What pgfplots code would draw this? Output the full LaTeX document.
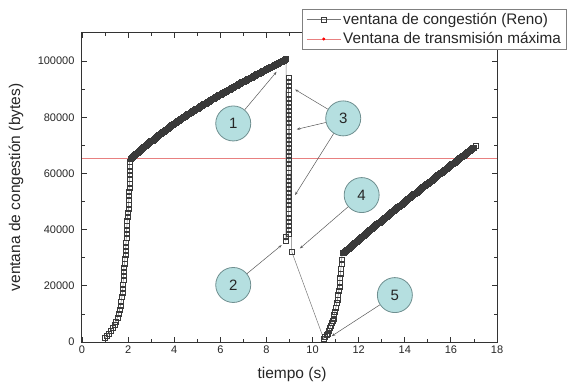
\documentclass[border=0pt]{standalone}
\usepackage{pgfplots}
\pgfplotsset{compat=1.18}
\usepackage{fontspec}
\setmainfont{Liberation Sans}
\usetikzlibrary{arrows.meta}
\definecolor{axisgray}{HTML}{333333}
\definecolor{callfill}{HTML}{B5DFE0}
\definecolor{calldraw}{HTML}{6F8F90}
\definecolor{maxred}{HTML}{E88080}
\definecolor{linegray}{HTML}{777777}
\definecolor{markgray}{HTML}{3A3A3A}

\begin{document}
\begin{tikzpicture}
\begin{axis}[
  scale only axis, width=415pt, height=309pt,
  xmin=0, xmax=18, ymin=0, ymax=110000,
  xtick={0,2,...,18}, minor x tick num=1,
  ytick={0,20000,40000,60000,80000,100000}, minor y tick num=1,
  scaled y ticks=false,
  yticklabel style={/pgf/number format/fixed, /pgf/number format/1000 sep={}, xshift=-4pt},
  /pgf/number format/assume math mode=true,
  tick align=inside, xtick pos=both, ytick pos=both,
  major tick length=5pt, minor tick length=3pt,
  tick style={axisgray, line width=0.8pt},
  axis line style={axisgray, line width=1pt},
  ticklabel style={font=\fontsize{11}{13}\selectfont, text=black!85},
  xlabel={tiempo (s)}, ylabel={ventana de congestión (bytes)},
  label style={font=\fontsize{15.5}{18}\selectfont, text=black!85},
  xlabel style={at={(axis description cs:0.506,-0.1036)}, anchor=center},
  ylabel style={at={(axis description cs:-0.159,0.5)}, anchor=center},
  legend style={at={(axis description cs:0.530,1.078)}, anchor=north west,
    draw=gray, line width=0.8pt, fill=white, font=\fontsize{15.3}{18}\selectfont,
    inner xsep=4pt, inner ysep=2pt, row sep=2.5pt, cells={anchor=west}, text=black!85},
  legend image code/.code={\draw[mark repeat=2,mark phase=2,#1] plot coordinates {(2pt,0pt) (19pt,0pt) (36pt,0pt)};},
]
\coordinate (O) at (rel axis cs:0,0);
\addplot[linegray, line width=0.5pt, mark=square, mark size=2.5pt,
  mark options={draw=markgray, fill=white, line width=0.5pt, solid}]
coordinates {
(1.00,1500) (1.08,2300) (1.16,3100) (1.24,4000) (1.32,5000) (1.40,6100) (1.47,7300) (1.53,8600)
(1.58,10000) (1.63,11500) (1.67,13000) (1.70,14500) (1.73,16000) (1.75,17500) (1.77,19000)
(1.78,20500) (1.79,22000) (1.80,23500) (1.81,25000) (1.82,26500) (1.84,28000) (1.86,29500)
(1.88,31000) (1.89,32500) (1.90,34000) (1.91,35500) (1.92,37000) (1.93,38500) (1.94,40000)
(1.95,41500) (1.96,43000) (1.98,44500) (2.00,46000) (2.01,47500) (2.02,49000) (2.03,50500)
(2.04,52000) (2.04,53500) (2.05,55000) (2.05,56500) (2.06,58000) (2.06,59500) (2.06,61000)
(2.07,62500) (2.07,64000)
(2.1,65360) (2.15,65715) (2.2,66070) (2.25,66425) (2.3,66780) (2.35,67135) (2.4,67490) (2.45,67845)
(2.5,68200) (2.55,68530) (2.6,68860) (2.65,69190) (2.7,69520) (2.75,69850) (2.8,70180) (2.85,70510)
(2.9,70840) (2.95,71170) (3.0,71500) (3.05,71820) (3.1,72140) (3.15,72460) (3.2,72780) (3.25,73100)
(3.3,73420) (3.35,73740) (3.4,74060) (3.45,74380) (3.5,74700) (3.55,75010) (3.6,75320) (3.65,75630)
(3.7,75940) (3.75,76250) (3.8,76560) (3.85,76870) (3.9,77180) (3.95,77490) (4.0,77800) (4.05,78080)
(4.1,78360) (4.15,78640) (4.2,78920) (4.25,79200) (4.3,79480) (4.35,79760) (4.4,80040) (4.45,80320)
(4.5,80600) (4.55,80860) (4.6,81120) (4.65,81380) (4.7,81640) (4.75,81900) (4.8,82160) (4.85,82420)
(4.9,82680) (4.95,82940) (5.0,83200) (5.05,83450) (5.1,83700) (5.15,83950) (5.2,84200) (5.25,84450)
(5.3,84700) (5.35,84950) (5.4,85200) (5.45,85450) (5.5,85700) (5.55,85940) (5.6,86180) (5.65,86420)
(5.7,86660) (5.75,86900) (5.8,87140) (5.85,87380) (5.9,87620) (5.95,87860) (6.0,88100) (6.05,88330)
(6.1,88560) (6.15,88790) (6.2,89020) (6.25,89250) (6.3,89480) (6.35,89710) (6.4,89940) (6.45,90170)
(6.5,90400) (6.55,90630) (6.6,90860) (6.65,91090) (6.7,91320) (6.75,91550) (6.8,91780) (6.85,92010)
(6.9,92240) (6.95,92470) (7.0,92700) (7.05,92920) (7.1,93140) (7.15,93360) (7.2,93580) (7.25,93800)
(7.3,94020) (7.35,94240) (7.4,94460) (7.45,94680) (7.5,94900) (7.55,95120) (7.6,95340) (7.65,95560)
(7.7,95780) (7.75,96000) (7.8,96220) (7.85,96440) (7.9,96660) (7.95,96880) (8.0,97100) (8.05,97310)
(8.1,97520) (8.15,97730) (8.2,97940) (8.25,98150) (8.3,98360) (8.35,98570) (8.4,98780) (8.45,98990)
(8.5,99200) (8.55,99415) (8.6,99630) (8.65,99850) (8.7,100070) (8.75,100290) (8.8,100500) (8.85,101000)
(8.84,37600) (8.84,36200)
(8.95,38520) (8.95,39980) (8.95,41440) (8.95,42900) (8.95,44360) (8.95,45820) (8.95,47280)
(8.95,48740) (8.95,50200) (8.95,51660) (8.95,53120) (8.95,54580) (8.95,56040) (8.95,57500)
(8.95,58960) (8.95,60420) (8.95,61880) (8.95,63340) (8.95,64800) (8.95,66260) (8.95,67720)
(8.95,69180) (8.95,70640) (8.95,72100) (8.95,73560) (8.95,75020) (8.95,76480) (8.95,77940)
(8.95,79400) (8.95,80860) (8.95,82320) (8.95,83780) (8.95,85240) (8.95,86700) (8.95,88160)
(8.95,89620) (8.95,91080) (8.95,92540) (8.95,94000)
(9.10,32100)
(10.48,1200) (10.54,1900) (10.61,2500) (10.68,3100) (10.72,4000) (10.75,4900) (10.79,5800)
(10.83,6700) (10.87,7500) (10.90,8400) (10.94,9600) (10.97,10800) (11.01,12300) (11.05,13800)
(11.08,15200) (11.11,16700) (11.14,18200) (11.16,19700) (11.18,21200) (11.19,22700) (11.21,24400)
(11.23,26200) (11.25,27700) (11.26,29200) (11.29,31600)
(11.35,31950) (11.4,32300) (11.45,32650) (11.5,33000) (11.55,33350) (11.6,33700) (11.65,34050)
(11.7,34400) (11.75,34750) (11.8,35100) (11.85,35450) (11.9,35800) (11.95,36150) (12.0,36500)
(12.05,36840) (12.1,37180) (12.15,37520) (12.2,37860) (12.25,38200) (12.3,38540) (12.35,38880)
(12.4,39220) (12.45,39560) (12.5,39900) (12.55,40240) (12.6,40580) (12.65,40920) (12.7,41260)
(12.75,41600) (12.8,41940) (12.85,42280) (12.9,42620) (12.95,42960) (13.0,43300) (13.05,43635)
(13.1,43970) (13.15,44305) (13.2,44640) (13.25,44975) (13.3,45310) (13.35,45645) (13.4,45980)
(13.45,46315) (13.5,46650) (13.55,46985) (13.6,47320) (13.65,47655) (13.7,47990) (13.75,48325)
(13.8,48660) (13.85,48995) (13.9,49330) (13.95,49665) (14.0,50000) (14.05,50325) (14.1,50650)
(14.15,50975) (14.2,51300) (14.25,51625) (14.3,51950) (14.35,52275) (14.4,52600) (14.45,52925)
(14.5,53250) (14.55,53575) (14.6,53900) (14.65,54225) (14.7,54550) (14.75,54875) (14.8,55200)
(14.85,55525) (14.9,55850) (14.95,56175) (15.0,56500) (15.05,56825) (15.1,57150) (15.15,57475)
(15.2,57800) (15.25,58125) (15.3,58450) (15.35,58775) (15.4,59100) (15.45,59425) (15.5,59750)
(15.55,60075) (15.6,60400) (15.65,60725) (15.7,61050) (15.75,61375) (15.8,61700) (15.85,62025)
(15.9,62350) (15.95,62675) (16.0,63000) (16.05,63315) (16.1,63630) (16.15,63945) (16.2,64260)
(16.25,64575) (16.3,64890) (16.35,65205) (16.4,65520) (16.45,65835) (16.5,66150) (16.55,66465)
(16.6,66780) (16.65,67095) (16.7,67410) (16.75,67725) (16.8,68040) (16.85,68355) (16.9,68670)
(16.95,68985) (17.0,69300) (17.07,69750)
};
\addlegendentry{ventana de congestión (Reno)}
\addplot[maxred, line width=0.8pt,
  legend image code/.code={\draw[maxred,line width=0.8pt] (2pt,0pt) -- (36pt,0pt); \fill[red] (19pt,0pt) circle (1.1pt);}]
coordinates {(0,65535) (18,65535)};
\addlegendentry{Ventana de transmisión máxima}

\tikzset{callout/.style={circle, draw=calldraw, fill=callfill, line width=0.8pt, minimum size=35pt, inner sep=0pt, font=\fontsize{15}{18}\selectfont, text=black!85},
  cline/.style={draw=black!65, line width=0.5pt, -{Stealth[length=3.5pt,width=2.5pt]}}}
\node[callout] (c1) at (axis cs:6.56,77800) {1};
\node[callout] (c2) at (axis cs:6.56,20300) {2};
\node[callout] (c3) at (axis cs:11.33,79600) {3};
\node[callout] (c4) at (axis cs:12.13,52300) {4};
\node[callout] (c5) at (axis cs:13.57,16700) {5};
\draw[cline] (c1) -- (axis cs:8.44,96200);
\draw[cline] (c2) -- (axis cs:8.66,34500);
\draw[cline] (c3) -- (axis cs:9.24,89900);
\draw[cline] (c3) -- (axis cs:9.31,75700);
\draw[cline] (c3) -- (axis cs:9.24,52300);
\draw[cline] (c4) -- (axis cs:9.45,33300);
\draw[cline] (c5) -- (axis cs:10.83,2100);
\end{axis}
\pgfresetboundingbox
\path ([shift={(-82pt,-41pt)}]O) rectangle ++(578pt,383pt);
\end{tikzpicture}
\end{document}
